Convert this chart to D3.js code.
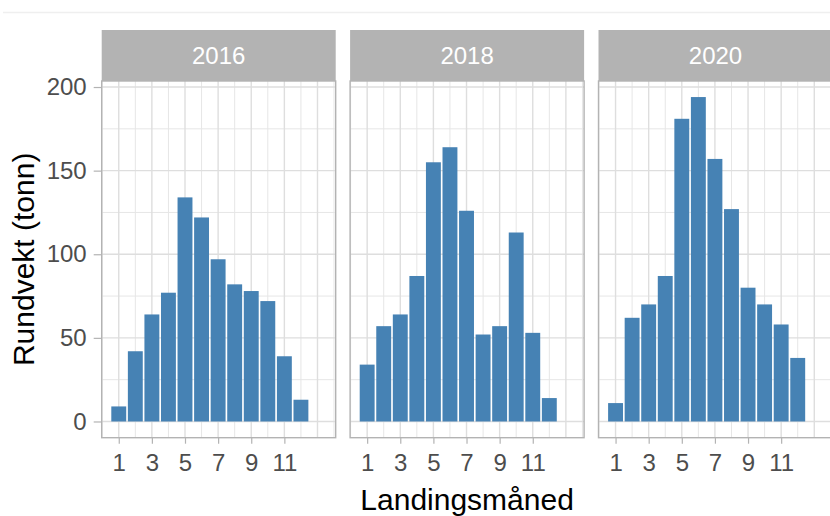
<!DOCTYPE html>
<html>
<head>
<meta charset="utf-8">
<script src="https://cdn.jsdelivr.net/npm/d3@7"></script>
<style>
  html, body { margin: 0; padding: 0; background: #ffffff; }
  svg { display: block; font-family: "Liberation Sans", Arial, sans-serif; }
</style>
</head>
<body>
<svg id="chart" width="830" height="516"></svg>
<script>
// ---- data ----
const years = ["2016", "2018", "2020"];
const months = [1, 2, 3, 4, 5, 6, 7, 8, 9, 10, 11, 12];
const values2016 = [9, 42, 64, 77, 134, 122, 97, 82, 78, 72, 39, 13];
const values2018 = [34, 57, 64, 87, 155, 164, 126, 52, 57, 113, 53, 14];
const values2020 = [11, 62, 70, 87, 181, 194, 157, 127, 80, 70, 58, 38];
const seriesByYear = [values2016, values2018, values2020];
const xTickValues = [1, 3, 5, 7, 9, 11];
const yTickValues = [0, 50, 100, 150, 200];
const yMinorValues = [25, 75, 125, 175];
const xGridValues = [0, 1, 2, 3, 4, 5, 6, 7, 8, 9, 10, 11, 12, 13, 14];
const xTitle = "Landingsmåned";
const yTitle = "Rundvekt (tonn)";

// ---- layout ----
const svg = d3.select("#chart");
const panelTop = 81, panelBottom = 437.7;
const panelW = 234, panelStep = 248.4, panelLeft0 = 101.7;
const stripTop = 30;
const barColor = "#4682B4";
const tickFont = 24, titleFont = 30;

// top faint line
svg.append("line").attr("x1", 3).attr("x2", 830).attr("y1", 12.5).attr("y2", 12.5)
  .attr("stroke", "#efefef").attr("stroke-width", 1.5);

const y = d3.scaleLinear().domain([-9.7, 203.6]).range([panelBottom, panelTop]);

years.forEach((yr, i) => {
  const left = panelLeft0 + i * panelStep;
  const x = d3.scaleLinear().domain([-0.03, 14.1]).range([left, left + panelW]);
  const g = svg.append("g");
  const data = months.map((m, k) => ({ m, v: seriesByYear[i][k] }));

  // strip
  g.append("rect").attr("x", left).attr("y", stripTop)
    .attr("width", panelW).attr("height", panelTop - stripTop)
    .attr("fill", "#b3b3b3");
  g.append("text").attr("x", left + panelW / 2).attr("y", (stripTop + panelTop) / 2)
    .attr("dy", "0.36em").attr("text-anchor", "middle")
    .attr("font-size", tickFont).attr("fill", "#ffffff").text(yr);

  const clipId = "clip" + i;
  svg.append("clipPath").attr("id", clipId).append("rect")
    .attr("x", left).attr("y", panelTop).attr("width", panelW).attr("height", panelBottom - panelTop);
  const pg = g.append("g").attr("clip-path", `url(#${clipId})`);

  // minor grid
  pg.selectAll("line.ymin").data(yMinorValues).join("line")
    .attr("x1", left).attr("x2", left + panelW)
    .attr("y1", d => y(d)).attr("y2", d => y(d))
    .attr("stroke", "#e6e6e6").attr("stroke-width", 1);
  pg.selectAll("line.xg").data(xGridValues).join("line")
    .attr("y1", panelTop).attr("y2", panelBottom)
    .attr("x1", d => x(d)).attr("x2", d => x(d))
    .attr("stroke", d => (d % 2 === 1 ? "#dedede" : "#e6e6e6"))
    .attr("stroke-width", d => (d % 2 === 1 ? 1.4 : 1));
  // major grid
  pg.selectAll("line.ymaj").data(yTickValues).join("line")
    .attr("x1", left).attr("x2", left + panelW)
    .attr("y1", d => y(d)).attr("y2", d => y(d))
    .attr("stroke", "#dedede").attr("stroke-width", 1.4);

  // bars
  pg.selectAll("rect.bar").data(data).join("rect")
    .attr("x", d => x(d.m - 0.45))
    .attr("width", d => x(d.m + 0.45) - x(d.m - 0.45))
    .attr("y", d => y(d.v))
    .attr("height", d => y(0) - y(d.v))
    .attr("fill", barColor);

  // border
  g.append("rect").attr("x", left).attr("y", panelTop)
    .attr("width", panelW).attr("height", panelBottom - panelTop)
    .attr("fill", "none").attr("stroke", "#b3b3b3").attr("stroke-width", 1.4);

  // x axis
  const xAxis = d3.axisBottom(x).tickValues(xTickValues).tickSize(6).tickPadding(10)
    .tickFormat(d3.format("d"));
  const ax = g.append("g").attr("transform", `translate(0,${panelBottom})`).call(xAxis);
  ax.select(".domain").remove();
  ax.selectAll(".tick line").attr("stroke", "#b3b3b3").attr("stroke-width", 1.2);
  ax.selectAll(".tick text").attr("fill", "#4d4d4d").attr("font-size", tickFont)
    .attr("font-family", "Liberation Sans, Arial, sans-serif");

  if (i === 0) {
    const yAxis = d3.axisLeft(y).tickValues(yTickValues).tickSize(8).tickPadding(7);
    const ay = g.append("g").attr("transform", `translate(${left},0)`).call(yAxis);
    ay.select(".domain").remove();
    ay.selectAll(".tick line").attr("stroke", "#b3b3b3").attr("stroke-width", 1.2);
    ay.selectAll(".tick text").attr("fill", "#4d4d4d").attr("font-size", tickFont)
      .attr("font-family", "Liberation Sans, Arial, sans-serif");
  }
});

// axis titles
svg.append("text").attr("x", (panelLeft0 + panelLeft0 + 2 * panelStep + panelW) / 2).attr("y", 510)
  .attr("text-anchor", "middle").attr("font-size", titleFont).attr("fill", "#000").text(xTitle);
svg.append("text").attr("transform", `translate(34,${(panelTop + panelBottom) / 2}) rotate(-90)`)
  .attr("text-anchor", "middle").attr("font-size", titleFont).attr("fill", "#000").text(yTitle);
</script>
</body>
</html>
